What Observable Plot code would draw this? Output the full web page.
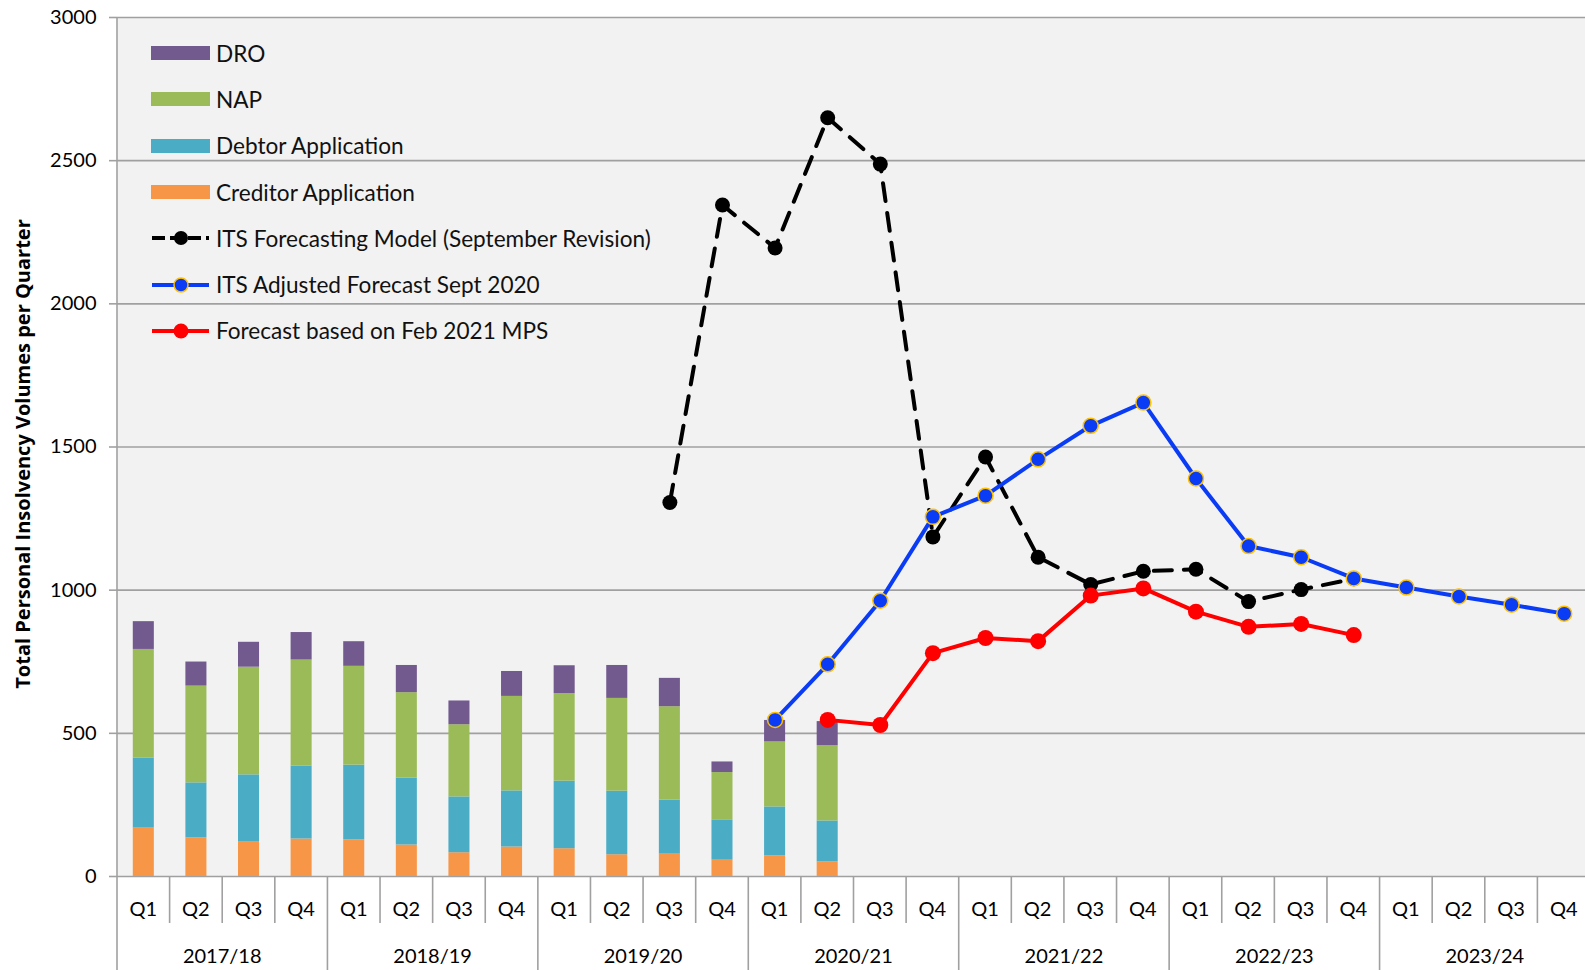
<!DOCTYPE html>
<html><head><meta charset="utf-8">
<script src="https://cdn.jsdelivr.net/npm/d3@7"></script>
<script src="https://cdn.jsdelivr.net/npm/@observablehq/plot@0.6"></script>
<style>
html,body{margin:0;padding:0;background:#fff;overflow:hidden;}
#wrap{position:relative;width:1585px;height:970px;overflow:hidden;}
#chart svg{max-width:none !important;}
#legend{position:absolute;left:151px;top:30px;font-family:Lato, sans-serif;font-size:22.6px;color:#111;}
.row{display:flex;align-items:center;height:46.3px;}
.row svg{margin-right:6px;flex:none;}
</style></head><body><div id="wrap"><div id="chart"></div><div id="legend"></div></div>
<script>
const years = ["2017/18","2018/19","2019/20","2020/21","2021/22","2022/23","2023/24"];
const quarters = ["Q1","Q2","Q3","Q4"];
const periods = years.flatMap(y => quarters.map(q => `${y} ${q}`));

// Actual volumes (first 14 quarters)
const creditor = [169,135,122,131,128,110,83,103,97,76,78,57,72,51];
const debtor   = [244,192,233,254,261,234,195,196,236,222,189,139,171,143];
const nap      = [380,338,376,371,345,298,252,330,306,324,326,167,227,263];
const dro      = [97,84,87,96,86,95,83,87,97,115,99,37,75,84];

// Forecasts (null = no value)
const itsModel = [null,null,null,null,null,null,null,null,null,null,
  1306,2345,2195,2650,2488,1186,1465,1115,1020,1066,1073,960,1002,1040,null,null,null,null];
const itsAdjusted = [null,null,null,null,null,null,null,null,null,null,null,null,
  547,741,963,1256,1330,1457,1574,1655,1390,1154,1115,1041,1009,978,949,918];
const febMPS = [null,null,null,null,null,null,null,null,null,null,null,null,null,
  547,529,780,833,822,981,1006,925,872,882,843,null,null,null,null];

const yTicks = [0,500,1000,1500,2000,2500,3000];
const yTitle = "Total Personal Insolvency Volumes per Quarter";

const barSeries = [
  {name:"Creditor Application", values:creditor, color:"#f79646"},
  {name:"Debtor Application", values:debtor, color:"#4bacc6"},
  {name:"NAP", values:nap, color:"#9bbb59"},
  {name:"DRO", values:dro, color:"#72598e"}
];
const barData = barSeries.flatMap(s => s.values.map((v,i) => ({period: periods[i], value: v, color: s.color, name: s.name})));
const toPts = arr => arr.map((v,i) => ({period: periods[i], value: v})).filter(d => d.value != null);
const blackPts = toPts(itsModel), bluePts = toPts(itsAdjusted), redPts = toPts(febMPS);

const font = "Lato, sans-serif";
const plot = Plot.plot({
  width: 1590, height: 970,
  marginLeft: 117, marginRight: 0, marginTop: 17, marginBottom: 94,
  style: {fontFamily: font, fontSize: "20px", color: "#000", background: "transparent", overflow: "visible"},
  x: {type: "band", domain: periods, paddingInner: 0.6, paddingOuter: 0.3, round: false, axis: null},
  y: {domain: [0,3000], axis: null},
  marks: [
    Plot.frame({fill: "#f2f2f2", stroke: null}),
    Plot.ruleY(yTicks, {stroke: "#a0a0a0", strokeWidth: 1.6}),
    Plot.axisY({ticks: yTicks, tickSize: 8, tickPadding: 13, stroke: "#a0a0a0", strokeWidth: 1.6, fontSize: 20, tickFormat: d => String(d), label: null}),
    Plot.text([yTitle], {frameAnchor: "left", textAnchor: "middle", rotate: -90, dx: -94, dy: 7, fontSize: 20, fontWeight: "bold", fontFamily: "Open Sans, sans-serif", fill: "#000"}),
    Plot.barY(barData, {x: "period", y: "value", fill: "color"}),
    Plot.line(blackPts, {x: "period", y: "value", stroke: "#000", strokeWidth: 4, strokeDasharray: "18,12"}),
    Plot.dot(blackPts, {x: "period", y: "value", r: 7.5, fill: "#000"}),
    Plot.line(bluePts, {x: "period", y: "value", stroke: "#0a3cf5", strokeWidth: 4}),
    Plot.dot(bluePts, {x: "period", y: "value", r: 7.5, fill: "#0a3cf5", stroke: "#ffc000", strokeWidth: 1.5}),
    Plot.line(redPts, {x: "period", y: "value", stroke: "#ff0000", strokeWidth: 4}),
    Plot.dot(redPts, {x: "period", y: "value", r: 8, fill: "#ff0000"})
  ]
});
document.getElementById("chart").appendChild(plot);

// Two-level category axis using Plot's own scales
const xs = plot.scale("x"), ys = plot.scale("y");
const svg = d3.select(plot);
const g = svg.append("g").attr("font-family", font).attr("font-size", 20).attr("fill", "#000");
const y0 = ys.apply(0);
const step = xs.step, bw = xs.bandwidth;
periods.forEach((p, i) => {
  const c = xs.apply(p) + bw / 2;
  const left = c - step / 2;
  const isYear = i % 4 === 0;
  g.append("line").attr("x1", left).attr("x2", left)
    .attr("y1", i === 0 ? ys.apply(3000) : y0).attr("y2", isYear ? 970 : y0 + 47)
    .attr("stroke", "#a0a0a0").attr("stroke-width", 1.6);
  g.append("text").attr("x", c).attr("y", y0 + 40).attr("text-anchor", "middle").text(quarters[i % 4]);
});
years.forEach((yr, j) => {
  const a = xs.apply(periods[j*4]) + bw/2 - step/2;
  const b = xs.apply(periods[j*4+3]) + bw/2 + step/2;
  g.append("text").attr("x", (a+b)/2).attr("y", y0 + 87).attr("text-anchor", "middle").text(yr);
});

// Legend
const legendItems = [
  {name:"DRO", type:"box", color:"#72598e"},
  {name:"NAP", type:"box", color:"#9bbb59"},
  {name:"Debtor Application", type:"box", color:"#4bacc6"},
  {name:"Creditor Application", type:"box", color:"#f79646"},
  {name:"ITS Forecasting Model (September Revision)", type:"line", color:"#000", dash:"13,5", r:7},
  {name:"ITS Adjusted Forecast Sept 2020", type:"line", color:"#0a3cf5", dotStroke:"#ffc000", r:7},
  {name:"Forecast based on Feb 2021 MPS", type:"line", color:"#ff0000", r:7.5}
];
const leg = d3.select("#legend");
legendItems.forEach(it => {
  const row = leg.append("div").attr("class", "row");
  const s = row.append("svg").attr("width", 59).attr("height", 20);
  if (it.type === "box") {
    s.append("rect").attr("x", 0).attr("y", 3).attr("width", 59).attr("height", 14).attr("fill", it.color);
  } else {
    s.append("line").attr("x1", 1).attr("x2", 58).attr("y1", 10).attr("y2", 10)
      .attr("stroke", it.color).attr("stroke-width", 4).attr("stroke-dasharray", it.dash || null);
    s.append("circle").attr("cx", 30).attr("cy", 10).attr("r", it.r).attr("fill", it.color)
      .attr("stroke", it.dotStroke || "none").attr("stroke-width", 1.5);
  }
  row.append("span").text(it.name);
});
</script></body></html>
